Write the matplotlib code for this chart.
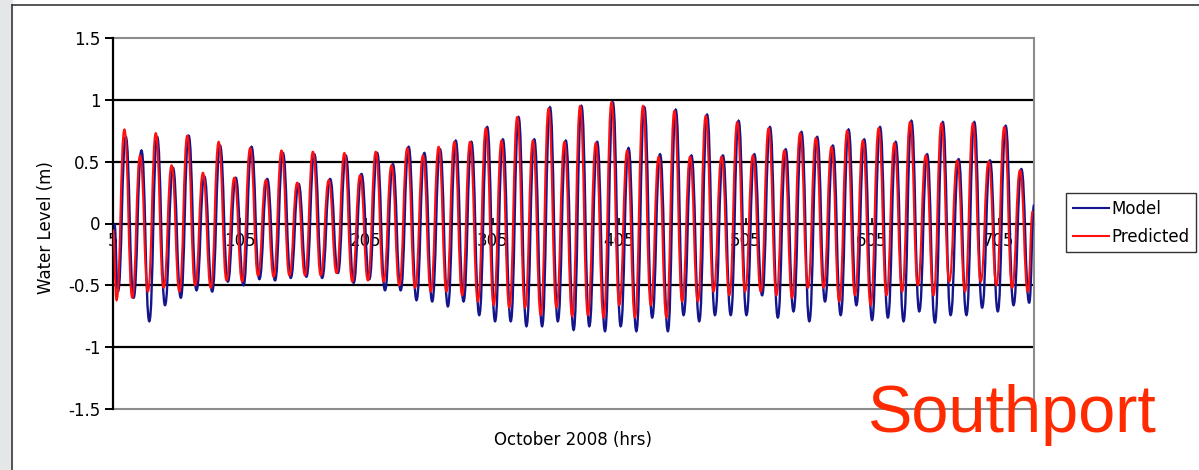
import numpy as np
import matplotlib.pyplot as plt
from matplotlib.lines import Line2D
from matplotlib.patches import Rectangle, PathPatch
from matplotlib.path import Path

# hours of each high water / low water (~12.4 h apart)
hw_hr = [14.0, 26.4, 38.8, 51.3, 63.7, 76.1, 88.5, 100.9, 113.4, 125.8,
         138.2, 150.6, 163.0, 175.5, 187.9, 200.3, 212.7, 225.1, 237.6, 250.0,
         262.4, 274.8, 287.2, 299.7, 312.1, 324.5, 336.9, 349.3, 361.8, 374.2,
         386.6, 399.0, 411.4, 423.9, 436.3, 448.7, 461.1, 473.5, 486.0, 498.4,
         510.8, 523.2, 535.6, 548.1, 560.5, 572.9, 585.3, 597.7, 610.2, 622.6,
         635.0, 647.4, 659.8, 672.3, 684.7, 697.1, 709.5, 721.9]
lw_hr = [7.8, 20.2, 32.6, 45.0, 57.5, 69.9, 82.3, 94.7, 107.1, 119.6,
         132.0, 144.4, 156.8, 169.2, 181.7, 194.1, 206.5, 218.9, 231.3, 243.8,
         256.2, 268.6, 281.0, 293.4, 305.9, 318.3, 330.7, 343.1, 355.5, 368.0,
         380.4, 392.8, 405.2, 417.6, 430.1, 442.5, 454.9, 467.3, 479.7, 492.2,
         504.6, 517.0, 529.4, 541.8, 554.3, 566.7, 579.1, 591.5, 603.9, 616.4,
         628.8, 641.2, 653.6, 666.0, 678.5, 690.9, 703.3, 715.7, 728.1]

pred_hw = [0.76, 0.55, 0.73, 0.47, 0.71, 0.41, 0.66, 0.37, 0.61,
           0.35, 0.59, 0.33, 0.58, 0.35, 0.57, 0.39, 0.58, 0.47, 0.61,
           0.55, 0.62, 0.66, 0.66, 0.77, 0.67, 0.86, 0.67, 0.93, 0.66,
           0.95, 0.65, 0.98, 0.59, 0.95, 0.54, 0.91, 0.54, 0.87, 0.54,
           0.82, 0.55, 0.77, 0.59, 0.73, 0.69, 0.62, 0.75, 0.67, 0.77,
           0.65, 0.82, 0.55, 0.81, 0.51, 0.81, 0.50, 0.78, 0.43]
model_hw = [0.70, 0.59, 0.70, 0.45, 0.71, 0.38, 0.63, 0.37, 0.62,
            0.36, 0.57, 0.32, 0.56, 0.36, 0.55, 0.40, 0.57, 0.48, 0.62,
            0.57, 0.60, 0.67, 0.66, 0.78, 0.68, 0.86, 0.68, 0.94, 0.67,
            0.95, 0.66, 0.98, 0.61, 0.94, 0.56, 0.92, 0.55, 0.88, 0.55,
            0.83, 0.56, 0.78, 0.60, 0.74, 0.70, 0.63, 0.76, 0.68, 0.78,
            0.66, 0.83, 0.56, 0.82, 0.52, 0.82, 0.51, 0.79, 0.44]

pred_lw = [-0.62,
           -0.60, -0.55, -0.52, -0.55, -0.50, -0.52, -0.46, -0.47, -0.42,
           -0.43, -0.42, -0.42, -0.42, -0.40, -0.47, -0.46, -0.47, -0.50, -0.52,
           -0.55, -0.55, -0.58, -0.63, -0.66, -0.68, -0.68, -0.74, -0.68, -0.75,
           -0.74, -0.76, -0.66, -0.76, -0.66, -0.76, -0.63, -0.63, -0.55,
           -0.58, -0.55, -0.55, -0.58, -0.60, -0.52, -0.52, -0.63, -0.58, -0.66,
           -0.58, -0.55, -0.50, -0.58, -0.47, -0.55, -0.47, -0.50, -0.52, -0.55]
model_lw = [-0.55,
            -0.60, -0.79, -0.66, -0.60, -0.54, -0.55, -0.47, -0.50, -0.45,
            -0.46, -0.44, -0.43, -0.44, -0.40, -0.48, -0.45, -0.54, -0.54, -0.62,
            -0.63, -0.67, -0.63, -0.74, -0.79, -0.79, -0.83, -0.83, -0.79, -0.86,
            -0.83, -0.87, -0.83, -0.87, -0.76, -0.87, -0.74, -0.79, -0.74,
            -0.74, -0.74, -0.58, -0.76, -0.71, -0.79, -0.63, -0.74, -0.66, -0.78,
            -0.76, -0.79, -0.71, -0.80, -0.74, -0.74, -0.68, -0.71, -0.66, -0.64]

# first and last hourly values
hr_start, hr_end = 5, 732
pred_ends = [-0.05, 0.10]
model_ends = [0.0, 0.15]

xticks = [5, 105, 205, 305, 405, 505, 605, 705]


def series(hi, lo, ends):
    t = np.concatenate([[hr_start], hw_hr, lw_hr, [hr_end]])
    v = np.concatenate([[ends[0]], hi, lo, [ends[1]]])
    order = np.argsort(t)
    return t[order], v[order]


def tide_path(t, v, k=0.48):
    # smooth tidal swing between successive extremes (flat at each turn)
    verts = [(t[0], v[0])]
    codes = [Path.MOVETO]
    for i in range(len(t) - 1):
        d = t[i + 1] - t[i]
        verts += [(t[i] + k * d, v[i]), (t[i + 1] - k * d, v[i + 1]),
                  (t[i + 1], v[i + 1])]
        codes += [Path.CURVE4] * 3
    return Path(verts, codes)


W, H = 1199, 470
fig = plt.figure(figsize=(W / 100, H / 100), dpi=100)

# screenshot frame
fig.add_artist(Rectangle((0, 0), 12 / W, 1, transform=fig.transFigure,
                         color='#e3e7e7', zorder=0))
fig.add_artist(Line2D([12.5 / W, 12.5 / W], [0, 1 - 5 / H], color='#3a3a3a', lw=1.2))
fig.add_artist(Line2D([12.5 / W, 1], [1 - 5 / H, 1 - 5 / H], color='#3a3a3a', lw=1.2))

ax = fig.add_axes([113 / W, 1 - 409 / H, 921 / W, 371 / H])

t_m, v_m = series(model_hw, model_lw, model_ends)
t_p, v_p = series(pred_hw, pred_lw, pred_ends)
ax.add_patch(PathPatch(tide_path(t_m + 1.1, v_m), facecolor='none',
                       edgecolor='#14148c', lw=1.7, zorder=3))
ax.add_patch(PathPatch(tide_path(t_p, v_p), facecolor='none',
                       edgecolor='#ff1010', lw=1.5, zorder=4))

ax.set_xlim(5, 733)
ax.set_ylim(-1.5, 1.5)

for y in [-1, -0.5, 0.5, 1]:
    ax.axhline(y, color='black', lw=1.6, zorder=1)
ax.axhline(1.5, color='#8c8c8c', lw=1.5, zorder=1, clip_on=False)
ax.axhline(-1.5, color='#8c8c8c', lw=1.5, zorder=1, clip_on=False)

ax.spines['bottom'].set_position(('data', 0))
ax.spines['bottom'].set_color('black')
ax.spines['bottom'].set_linewidth(1.6)
ax.spines['bottom'].set_zorder(1)
ax.spines['top'].set_visible(False)
ax.spines['right'].set_color('#8c8c8c')
ax.spines['right'].set_linewidth(1.5)
ax.spines['left'].set_color('black')
ax.spines['left'].set_linewidth(1.6)

ax.set_yticks([-1.5, -1, -0.5, 0, 0.5, 1, 1.5])
ax.set_yticklabels(['-1.5', '-1', '-0.5', '0', '0.5', '1', '1.5'])
ax.tick_params(axis='y', direction='out', length=6, width=1.4, pad=3, labelsize=12)
ax.set_xticks(xticks)
ax.set_xticklabels([str(x) for x in xticks])
ax.tick_params(axis='x', direction='in', length=4, width=1.2, pad=6, labelsize=12)

fig.text(46 / W, 1 - 228 / H, 'Water Level (m)', rotation=90, ha='center',
         va='center', fontsize=12)
fig.text(573 / W, 1 - 440 / H, 'October 2008 (hrs)', ha='center', va='center',
         fontsize=12)
fig.text(867 / W, 1 - 432 / H, 'Southport', ha='left', va='baseline',
         fontsize=48, color='#ff2a00', family=['Liberation Sans', 'DejaVu Sans'])

handles = [Line2D([], [], color='#14148c', lw=1.5),
           Line2D([], [], color='#ff1010', lw=1.5)]
leg = fig.legend(handles, ['Model', 'Predicted'], loc='upper left',
                 bbox_to_anchor=(1066 / W, 1 - 193 / H), fontsize=12,
                 frameon=True, fancybox=False, edgecolor='black',
                 handlelength=2.2, handletextpad=0.1, labelspacing=0.6,
                 borderpad=0.4, borderaxespad=0)
leg.get_frame().set_linewidth(1.0)

fig.savefig('out.png', dpi=100)
